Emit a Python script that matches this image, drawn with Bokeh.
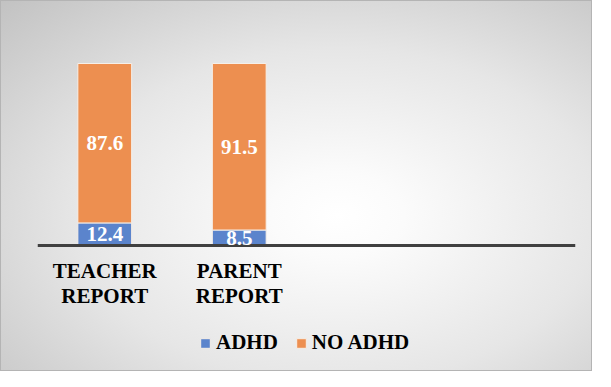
from bokeh.plotting import figure
from bokeh.models import Range1d, ColumnDataSource, Label, Legend, LegendItem, Span, FixedTicker
from bokeh.embed import file_html
from bokeh.resources import INLINE

categories = ["TEACHER\nREPORT", "PARENT\nREPORT"]
n_slots = 4
series = ["ADHD", "NO ADHD"]
adhd = [12.4, 8.5]
no_adhd = [87.6, 91.5]
colors = ["#5B84CC", "#ED8F50"]

FONT = "Liberation Serif"
FS = "21px"

xs = [i + 0.5 for i in range(len(categories))]

# frame: 182 px per 100 units, baseline 244 px from top of a 371 px figure
p = figure(width=592, height=371, x_range=Range1d(0, n_slots),
           y_range=Range1d(-127 / 1.82, 100 + 62 / 1.82), output_backend="svg",
           toolbar_location=None,
           min_border_left=36, min_border_right=18, min_border_top=0, min_border_bottom=0)
p.background_fill_color = None
p.border_fill_color = None
p.outline_line_color = None
p.xaxis.visible = False
p.grid.visible = False
p.yaxis.ticker = FixedTicker(ticks=[])
p.yaxis.axis_line_color = None
p.yaxis.major_tick_line_color = None
p.yaxis.minor_tick_line_color = None
p.styles = {"background": "radial-gradient(ellipse farthest-corner at 57% 58%, #ffffff 0%, #fbfbfb 14%, #e6e6e6 55%, #c2c2c2 100%)",
            "border": "1px solid #b4b4b4", "box-sizing": "border-box"}

src = ColumnDataSource(dict(x=xs, ADHD=adhd, **{"NO ADHD": no_adhd}))
rends = p.vbar_stack(series, x="x", width=0.4, source=src, color=colors,
                     line_color="#f6efe8", line_width=1)

# baseline (category axis line)
p.add_layout(Span(location=0, dimension="width", line_color="#404040", line_width=3))

# category labels, one text row per line
for x, cat in zip(xs, categories):
    for k, line in enumerate(cat.split("\n")):
        p.add_layout(Label(x=x, y=0, y_offset=-(25 + 25 * k), text=line,
                           text_align="center", text_baseline="middle",
                           text_color="#000000", text_font=FONT,
                           text_font_style="bold", text_font_size=FS))

# data labels
for x, a, n in zip(xs, adhd, no_adhd):
    for y, v in ((a / 2, a), (a + n / 2, n)):
        p.add_layout(Label(x=x, y=y, text=f"{v:.1f}", text_align="center",
                           text_baseline="middle", text_color="white",
                           text_font=FONT, text_font_style="bold", text_font_size=FS))

legend = Legend(items=[LegendItem(label=s, renderers=[r]) for s, r in zip(series, rends)],
                orientation="horizontal", location=(162, 17),
                glyph_width=12, glyph_height=12, label_standoff=5, spacing=17,
                label_text_font=FONT, label_text_font_style="bold",
                label_text_font_size=FS, label_text_color="#000000",
                background_fill_alpha=0, border_line_color=None, margin=0, padding=4)
p.add_layout(legend)

open("out.html", "w").write(file_html(p, INLINE))
